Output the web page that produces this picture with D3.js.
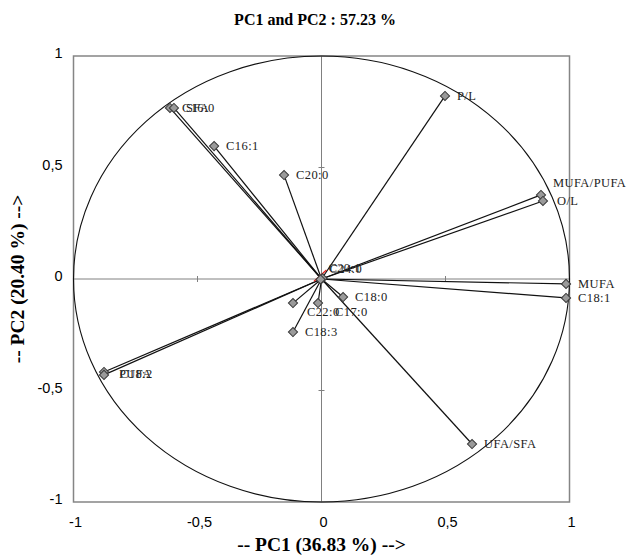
<!DOCTYPE html>
<html>
<head>
<meta charset="utf-8">
<script src="https://cdn.jsdelivr.net/npm/d3@7"></script>
<style>
  body { margin: 0; background: #fff; }
  svg { display: block; }
</style>
</head>
<body>
<div id="chart"></div>
<script>
// loadings
var names = ["C16:0", "SFA", "C16:1", "C20:0", "P/L", "MUFA/PUFA", "O/L", "MUFA", "C18:1",
    "UFA/SFA", "C18:0", "C17:0", "C22:0", "C18:3", "PUFA", "C18:2", "C20:1", "C24:0"];
var pc1 = [-0.611, -0.595, -0.433, -0.151, 0.498, 0.885, 0.893, 0.986, 0.986,
    0.607, 0.087, -0.014, -0.115, -0.115, -0.877, -0.877, 0.004, -0.004];
var pc2 = [0.767, 0.767, 0.596, 0.466, 0.821, 0.377, 0.350, -0.022, -0.085,
    -0.740, -0.081, -0.108, -0.108, -0.238, -0.417, -0.430, 0.003, -0.002];
// short red segment through the origin
var redPC1 = [-0.03, 0.02];
var redPC2 = [-0.01, 0.04];

var ticks = [-1, -0.5, 0, 0.5, 1];
var tickLabels = ["-1", "-0,5", "0", "0,5", "1"];
var innerTicks = [-0.5, 0.5];

var data = names.map(function (n, i) {
    return {name: n, x: pc1[i], y: pc2[i]};
});

var W = 633, H = 558;
var margin = {top: 56, right: 63.5, bottom: 56, left: 73.5};
var width = W - margin.left - margin.right;
var height = H - margin.top - margin.bottom;

var svg = d3.select("#chart")
    .append("svg")
    .attr("width", W)
    .attr("height", H);

var g = svg.append("g")
    .attr("transform", "translate(" + margin.left + "," + margin.top + ")");

var x = d3.scaleLinear().domain([-1, 1]).range([0, width]);
var y = d3.scaleLinear().domain([-1, 1]).range([height, 0]);

// frame
g.append("rect")
    .attr("x", 0).attr("y", 0)
    .attr("width", width).attr("height", height)
    .attr("fill", "none")
    .attr("stroke", "#858585")
    .attr("stroke-width", 1.5);

// inner axes through the origin
g.append("line")
    .attr("x1", x(-1)).attr("x2", x(1))
    .attr("y1", y(0)).attr("y2", y(0))
    .attr("stroke", "#808080");
g.append("line")
    .attr("x1", x(0)).attr("x2", x(0))
    .attr("y1", y(-1)).attr("y2", y(1))
    .attr("stroke", "#808080");

g.selectAll(".xt").data(innerTicks).enter().append("line")
    .attr("x1", function (d) { return x(d); })
    .attr("x2", function (d) { return x(d); })
    .attr("y1", y(0) - 3).attr("y2", y(0) + 3)
    .attr("stroke", "#808080");
g.selectAll(".yt").data(innerTicks).enter().append("line")
    .attr("y1", function (d) { return y(d); })
    .attr("y2", function (d) { return y(d); })
    .attr("x1", x(0) - 3).attr("x2", x(0) + 3)
    .attr("stroke", "#808080");

// correlation circle
g.append("ellipse")
    .attr("cx", x(0)).attr("cy", y(0))
    .attr("rx", x(1) - x(0)).attr("ry", y(0) - y(1))
    .attr("fill", "none")
    .attr("stroke", "#111")
    .attr("stroke-width", 1.1);

// vectors
g.selectAll(".vec").data(data).enter().append("line")
    .attr("x1", x(0)).attr("y1", y(0))
    .attr("x2", function (d) { return x(d.x); })
    .attr("y2", function (d) { return y(d.y); })
    .attr("stroke", "#111")
    .attr("stroke-width", 1.2);

g.append("line")
    .attr("x1", x(redPC1[0])).attr("y1", y(redPC2[0]))
    .attr("x2", x(redPC1[1])).attr("y2", y(redPC2[1]))
    .attr("stroke", "#e0201a")
    .attr("stroke-width", 1.3);

var diamond = d3.symbol().type(d3.symbolSquare).size(42);
g.selectAll(".pt").data(data).enter().append("path")
    .attr("d", diamond)
    .attr("transform", function (d) {
        return "translate(" + x(d.x) + "," + y(d.y) + ") rotate(45)";
    })
    .attr("fill", "#9a9a9a")
    .attr("stroke", "#3a3a3a")
    .attr("stroke-width", 1);

// label nudges (a few were moved by hand in the original)
var nudge = {
    "MUFA/PUFA": [12, -8],
    "O/L": [14, 4],
    "C22:0": [14, 13],
    "C17:0": [17, 13],
    "C20:1": [6, -6],
    "C24:0": [9, -6],
    "PUFA": [15, 6],
    "C18:2": [16, 3]
};

g.selectAll(".lbl").data(data).enter().append("text")
    .attr("x", function (d) { return x(d.x) + (nudge[d.name] ? nudge[d.name][0] : 12); })
    .attr("y", function (d) { return y(d.y) + (nudge[d.name] ? nudge[d.name][1] : 4); })
    .style("font-family", "'Liberation Serif', 'Times New Roman', serif")
    .style("font-size", "12.5px")
    .style("letter-spacing", "0.4px")
    .attr("fill", "#222")
    .text(function (d) { return d.name; });

// outer tick labels
g.selectAll(".xl").data(ticks).enter().append("text")
    .attr("x", function (d) { return x(d) + 2; })
    .attr("y", height + 25)
    .attr("text-anchor", "middle")
    .style("font-family", "'Liberation Sans', Arial, sans-serif")
    .style("font-size", "14.5px")
    .text(function (d, i) { return tickLabels[i]; });

g.selectAll(".yl").data(ticks).enter().append("text")
    .attr("x", -11)
    .attr("y", function (d) { return y(d) + 2; })
    .attr("text-anchor", "end")
    .style("font-family", "'Liberation Sans', Arial, sans-serif")
    .style("font-size", "14.5px")
    .text(function (d, i) { return tickLabels[i]; });

// titles
svg.append("text")
    .attr("x", 315)
    .attr("y", 25)
    .attr("text-anchor", "middle")
    .style("font-family", "'Liberation Serif', 'Times New Roman', serif")
    .style("font-weight", "bold")
    .style("font-size", "16px")
    .text("PC1 and PC2 : 57.23 %");

svg.append("text")
    .attr("x", margin.left + x(0))
    .attr("y", 551)
    .attr("text-anchor", "middle")
    .style("font-family", "'Liberation Serif', 'Times New Roman', serif")
    .style("font-weight", "bold")
    .style("font-size", "19.5px")
    .text("-- PC1 (36.83 %) -->");

svg.append("text")
    .attr("transform", "translate(24," + (margin.top + y(0)) + ") rotate(-90)")
    .attr("text-anchor", "middle")
    .style("font-family", "'Liberation Serif', 'Times New Roman', serif")
    .style("font-weight", "bold")
    .style("font-size", "19.5px")
    .text("-- PC2 (20.40 %) -->");
</script>
</body>
</html>
